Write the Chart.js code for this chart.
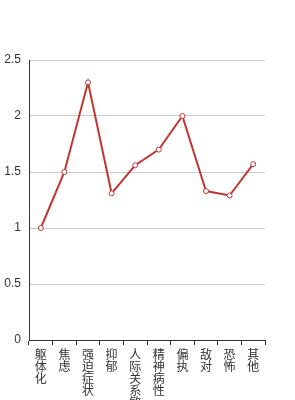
<!DOCTYPE html>
<html>
<head>
<meta charset="utf-8">
<script src="https://cdn.jsdelivr.net/npm/chart.js@4"></script>
<style>
  html, body { margin: 0; padding: 0; background: #fff; }
  #wrap { width: 295px; height: 400px; }
</style>
</head>
<body>
<div id="wrap"><canvas id="myChart"></canvas></div>
<script>
// categories, values
var categories = ['躯体化', '焦虑', '强迫症状', '抑郁', '人际关系敏感', '精神病性', '偏执', '敌对', '恐怖', '其他'];
var scores = [1.0, 1.5, 2.3, 1.31, 1.56, 1.70, 2.0, 1.33, 1.29, 1.57];
var yTicks = [0, 0.5, 1, 1.5, 2, 2.5];

// vertical labels: one character per line
var labels = categories.map(function(c) { return c.split(''); });

var ctx = document.getElementById('myChart').getContext('2d');
var myChart = new Chart(ctx, {
  type: 'line',
  data: {
    labels: labels,
    datasets: [{
      data: scores,
      borderColor: '#c23531',
      borderWidth: 2,
      backgroundColor: '#fff',
      pointBackgroundColor: '#fff',
      pointBorderColor: '#c23531',
      pointBorderWidth: 1,
      pointRadius: 2.5,
      tension: 0,
      fill: false
    }]
  },
  options: {
    responsive: true,
    maintainAspectRatio: false,
    animation: false,
    layout: { padding: { top: 60, right: 30, left: 0, bottom: 0 } },
    plugins: { legend: { display: false }, tooltip: { enabled: false } },
    scales: {
      x: {
        offset: true,
        afterFit: function(scale) { scale.height = 60; },
        grid: { offset: true, drawOnChartArea: false, drawTicks: true, tickLength: 5, color: '#333' },
        border: { color: '#333', width: 1 },
        ticks: {
          maxRotation: 0, minRotation: 0, autoSkip: false, padding: 3,
          color: '#333',
          font: { family: '"Noto Sans CJK SC"', size: 12, lineHeight: 1.0 }
        }
      },
      y: {
        min: 0, max: 2.5,
        afterFit: function(scale) { scale.width = 29; },
        afterBuildTicks: function(scale) {
          scale.ticks = yTicks.map(function(v) { return { value: v }; });
        },
        grid: { drawTicks: false, color: '#ccc' },
        border: { color: '#333', width: 1 },
        ticks: {
          padding: 8,
          color: '#333',
          font: { family: '"Liberation Sans"', size: 12 },
          callback: function(value) { return String(value); }
        }
      }
    }
  }
});
</script>
</body>
</html>
